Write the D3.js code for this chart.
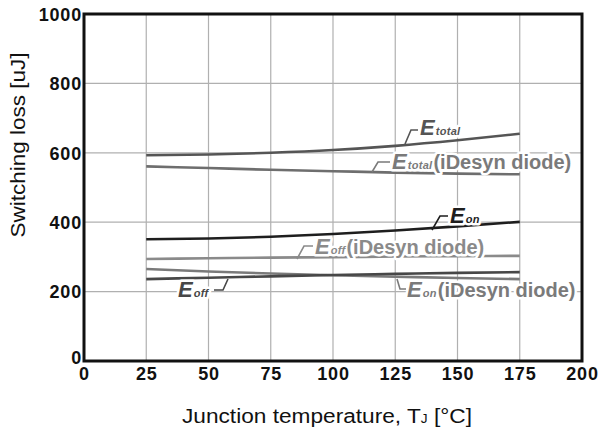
<!DOCTYPE html>
<html>
<head>
<meta charset="utf-8">
<script src="https://cdn.jsdelivr.net/npm/d3@7"></script>
<style>
body { margin: 0; background: #fff; }
text { font-family: "Liberation Sans", Arial, sans-serif; font-variant-ligatures: none; }
.tick text { font-weight: bold; font-size: 18px; fill: #111; letter-spacing: 0.8px; }
.halo { stroke: #fff; stroke-width: 5px; stroke-linejoin: round; }
</style>
</head>
<body>
<svg id="chart" width="599" height="434"></svg>
<script>
// data
var temps = [25, 50, 75, 100, 125, 150, 175];
var eTotal = [593, 595, 600, 608, 620, 636, 655];
var eTotalDiode = [561, 556, 551, 547, 543, 540, 538];
var eOn = [351, 353, 358, 366, 376, 388, 401];
var eOffDiode = [294, 296, 298, 299, 301, 302, 303];
var eOnDiode = [265, 258, 252, 247, 243, 239, 236];
var eOff = [236, 240, 244, 248, 251, 254, 256];
var xTicks = [0, 25, 50, 75, 100, 125, 150, 175, 200];
var yTicks = [0, 200, 400, 600, 800, 1000];

var svg = d3.select("#chart");
var plotL = 84, plotR = 582, plotT = 14, plotB = 361;

var x = d3.scaleLinear().domain([0, 200]).range([plotL, plotR]);
var y = d3.scaleLinear().domain([0, 1000]).range([plotB, plotT]);

// grid
svg.append("g").selectAll("line").data(xTicks.slice(1, -1)).enter().append("line")
	.attr("x1", d => x(d)).attr("x2", d => x(d))
	.attr("y1", plotT).attr("y2", plotB)
	.attr("stroke", "#b0b0b0").attr("stroke-width", 1.2);
svg.append("g").selectAll("line").data(yTicks.slice(1, -1)).enter().append("line")
	.attr("x1", plotL).attr("x2", plotR)
	.attr("y1", d => y(d)).attr("y2", d => y(d))
	.attr("stroke", "#b0b0b0").attr("stroke-width", 1.2);

// axes
var xAxis = svg.append("g").attr("transform", "translate(0," + plotB + ")")
	.call(d3.axisBottom(x).tickValues(xTicks).tickFormat(d3.format("d")).tickSize(0));
var yAxis = svg.append("g").attr("transform", "translate(" + plotL + ",0)")
	.call(d3.axisLeft(y).tickValues(yTicks).tickFormat(d3.format("d")).tickSize(0).tickPadding(2));
xAxis.select(".domain").remove();
yAxis.select(".domain").remove();
xAxis.selectAll("text").attr("y", 19).attr("dy", 0);
yAxis.selectAll("text").attr("dy", "0.35em");
yAxis.selectAll(".tick").filter(d => d === 0).select("text").attr("dy", "0.15em");

// series
var series = [
	{ vals: eTotal, color: "#555" },
	{ vals: eTotalDiode, color: "#6e6e6e" },
	{ vals: eOn, color: "#1e1e1e" },
	{ vals: eOffDiode, color: "#8a8a8a" },
	{ vals: eOnDiode, color: "#7a7a7a" },
	{ vals: eOff, color: "#474747" }
];
var line = d3.line().x((d, i) => x(temps[i])).y(d => y(d)).curve(d3.curveMonotoneX);
svg.append("g").selectAll("path").data(series).enter().append("path")
	.attr("d", d => line(d.vals))
	.attr("fill", "none")
	.attr("stroke", d => d.color)
	.attr("stroke-width", 2.6);

// labels with leader hooks
var labels = [
	{ sub: "total", rest: "", x: 420, y: 135, color: "#555", hook: [[405, 144], [411, 130], [418, 130]] },
	{ sub: "total", rest: "(iDesyn diode)", x: 392, y: 169, color: "#7a7a7a", hook: [[372, 172], [378, 162], [390, 162]] },
	{ sub: "on", rest: "", x: 450, y: 223, color: "#1e1e1e", hook: [[432, 230], [440, 216], [448, 216]] },
	{ sub: "off", rest: "(iDesyn diode)", x: 315, y: 254, color: "#8a8a8a", hook: [[297, 259], [304, 246], [313, 246]] },
	{ sub: "on", rest: "(iDesyn diode)", x: 407, y: 297, color: "#7a7a7a", hook: [[397, 279], [400, 289], [406, 289]] },
	{ sub: "off", rest: "", x: 178, y: 297, color: "#474747", hook: [[228, 279], [223, 290], [214, 290]] }
];

function labelText(l, cls, fill) {
	var t = svg.append("text").attr("class", cls)
		.attr("x", l.x).attr("y", l.y)
		.attr("fill", fill)
		.attr("font-weight", "bold");
	t.append("tspan").attr("font-size", "22px").attr("font-style", "italic").text("E");
	t.append("tspan").attr("font-size", "11px").attr("font-style", "italic").attr("dx", "1")
		.attr("letter-spacing", "0.3px").text(l.sub);
	if (l.rest) {
		t.append("tspan").attr("font-size", "20px").attr("dx", "1").text(l.rest);
	}
}

// white halo first, so gridlines break behind the text
labels.forEach(function(l) { labelText(l, "halo", "#fff"); });
labels.forEach(function(l) {
	labelText(l, "lbl", l.color);
	svg.append("path")
		.attr("d", d3.line()(l.hook))
		.attr("fill", "none")
		.attr("stroke", l.color)
		.attr("stroke-width", 1.6);
});

// frame
svg.append("rect")
	.attr("x", plotL).attr("y", plotT)
	.attr("width", plotR - plotL).attr("height", plotB - plotT)
	.attr("fill", "none").attr("stroke", "#111").attr("stroke-width", 3);

// axis titles
svg.append("text")
	.attr("transform", "translate(25,145) rotate(-90)")
	.attr("text-anchor", "middle")
	.attr("font-size", "20px").attr("fill", "#111")
	.attr("textLength", 185).attr("lengthAdjust", "spacingAndGlyphs")
	.text("Switching loss [uJ]");

var xt = svg.append("text")
	.attr("x", 182).attr("y", 423)
	.attr("font-size", "20px").attr("fill", "#111")
	.attr("textLength", 290).attr("lengthAdjust", "spacingAndGlyphs");
xt.append("tspan").text("Junction temperature, T");
xt.append("tspan").attr("font-size", "12px").text("J");
xt.append("tspan").text(" [°C]");
</script>
</body>
</html>
